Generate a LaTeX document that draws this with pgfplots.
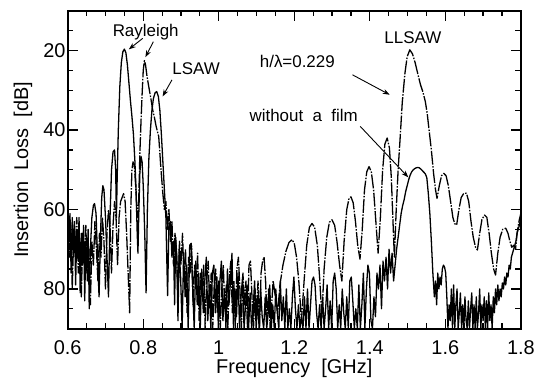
\documentclass[border=0pt]{standalone}
\usepackage{pgfplots}
\pgfplotsset{compat=1.18}
\usepackage{fontspec}
\setmainfont{Liberation Sans}
\usetikzlibrary{arrows.meta}

\begin{document}
\begin{tikzpicture}
\begin{axis}[
  scale only axis, width=455pt, height=319pt,
  at={(0,0)}, anchor=south west,
  xmin=0.6, xmax=1.8, ymin=10, ymax=90, y dir=reverse,
  xtick={0.6,0.8,1,1.2,1.4,1.6,1.8},
  xticklabels={0.6,0.8,1,1.2,1.4,1.6,1.8},
  ytick={20,40,60,80},
  minor xtick={0.65,0.7,0.75,0.85,0.9,0.95,1.05,1.1,1.15,1.25,1.3,1.35,1.45,1.5,1.55,1.65,1.7,1.75},
  minor ytick={15,25,30,35,45,50,55,65,70,75,85},
  tick align=inside, xtick pos=both, ytick pos=both,
  major tick length=10pt, minor tick length=5.5pt,
  major tick style={line width=1.2pt, black},
  minor tick style={line width=1.2pt, black},
  axis line style={line width=1.8pt},
  tick label style={font=\fontsize{20}{24}\selectfont},
  xticklabel style={anchor=base, yshift=-26pt},
  yticklabel style={inner xsep=2pt},
  xlabel={Frequency\ \ [GHz]}, ylabel={Insertion\ \ Loss\ \ [dB]},
  label style={font=\fontsize{20}{24}\selectfont},
  xlabel style={at={(axis description cs:0.5,0)}, anchor=base, yshift=-45pt},
  ylabel style={at={(axis description cs:-0.099,0.5)}, anchor=center},
  /pgf/number format/assume math mode=true,
  no markers,
]
% without a film (solid)
\addplot[black, line width=1.3pt, line join=round] table {
0.600 57
0.603 68
0.606 61
0.609 76
0.612 62
0.615 71
0.618 63
0.621 79
0.624 65
0.627 72
0.630 62
0.633 81
0.636 66
0.639 74
0.642 64
0.645 83
0.648 68
0.651 76
0.654 65
0.657 85
0.660 70
0.664 62
0.668 59
0.671 58.5
0.675 61
0.679 72
0.683 82
0.687 66
0.690 57
0.693 54
0.696 55
0.700 62
0.704 72
0.708 82
0.712 62
0.716 50
0.720 45.5
0.724 45
0.727 50
0.729 62
0.731 52
0.734 40
0.738 29
0.742 23
0.746 20.3
0.750 19.6
0.754 20.5
0.758 23.5
0.762 28
0.766 32.5
0.770 36.5
0.774 41
0.778 48
0.781 55
0.784 66
0.786 71
0.788 62
0.791 51
0.794 46.6
0.797 48
0.800 54
0.804 66
0.8075 81
0.811 60
0.815 47
0.819 40
0.823 35
0.827 32
0.8315 30.6
0.8356 30.3
0.840 31.5
0.844 35
0.848 41
0.852 48
0.856 55
0.860 62
0.8645 81.7
0.868 64
0.872 63
0.876 72
0.880 68
0.883 84
0.886 67
0.889 73
0.892 88
0.895 70
0.899 77
0.903 90
0.907 71
0.911 82
0.915 74
0.919 90
0.923 69
0.927 68.5
0.931 80
0.935 90
0.939 73
0.943 84
0.947 76
0.951 90
0.955 75
0.959 86
0.963 78
0.967 72
0.971 88
0.975 79
0.979 90
0.983 76
0.987 74
0.991 86
0.995 77
0.999 90
1.003 78
1.007 73
1.011 88
1.015 80
1.019 90
1.023 75
1.027 84
1.031 78
1.035 71
1.039 90
1.043 80
1.047 87
1.051 76
1.055 90
1.059 82
1.063 77
1.067 90
1.071 84
1.075 79
1.079 90
1.083 81
1.087 90
1.091 85
1.095 78
1.099 90
1.103 83
1.107 90
1.111 80
1.115 87
1.119 90
1.123 82
1.127 90
1.131 86
1.135 79
1.139 90
1.143 84
1.147 90
1.151 80
1.155 86
1.159 90
1.163 78
1.167 88
1.171 82
1.175 90
1.179 80
1.183 90
1.187 85
1.191 90
1.195 82
1.199 77
1.203 85
1.207 90
1.211 84
1.215 90
1.219 87
1.223 90
1.227 82
1.231 90
1.235 80
1.239 90
1.243 84
1.247 78
1.251 77
1.255 79
1.259 86
1.263 90
1.267 84
1.271 90
1.275 82
1.279 90
1.283 85
1.287 79
1.291 90
1.295 83
1.299 90
1.303 78
1.307 76
1.311 80
1.315 90
1.319 84
1.323 90
1.327 80
1.331 86
1.335 90
1.339 82
1.343 90
1.347 78
1.351 77
1.355 83
1.359 90
1.363 85
1.367 90
1.371 79
1.375 90
1.379 84
1.383 76
1.387 90
1.391 80
1.395 74
1.399 76
1.403 88
1.407 90
1.411 82
1.415 87
1.419 76
1.423 80
1.427 74
1.431 85
1.435 73
1.439 78
1.443 72
1.447 80
1.451 70
1.455 76
1.459 71
1.463 78
1.467 74
1.471 70
1.475 67
1.479 64
1.483 61
1.487 59
1.491 57.5
1.495 55.5
1.499 54
1.503 52.5
1.507 51.3
1.511 50.5
1.515 50
1.519 49.7
1.523 49.5
1.527 49.4
1.531 49.5
1.535 49.8
1.539 50.2
1.543 50.6
1.547 51
1.551 52
1.555 56
1.559 61
1.563 68
1.567 76
1.571 82
1.574 78
1.577 84
1.580 76
1.583 80
1.586 77
1.589 79
1.592 75
1.595 74
1.598 74.5
1.601 76
1.604 82
1.607 90
1.610 84
1.613 88
1.616 80
1.619 90
1.622 79
1.625 90
1.628 84
1.631 80
1.634 90
1.637 86
1.640 81
1.643 90
1.646 84
1.649 90
1.652 82
1.655 88
1.658 90
1.661 83
1.664 90
1.667 85
1.670 81
1.673 90
1.676 84
1.679 90
1.682 82
1.685 90
1.688 86
1.691 80
1.694 90
1.697 84
1.700 88
1.703 82
1.706 90
1.709 83
1.712 90
1.715 81
1.718 88
1.721 84
1.724 90
1.727 82
1.730 86
1.733 80
1.736 84
1.739 79
1.742 83
1.745 80
1.748 82
1.751 78.5
1.754 80
1.757 77
1.760 79
1.763 76
1.766 77
1.769 74
1.772 75
1.775 72
1.778 71
1.781 70
1.784 69
1.787 68
1.790 66
1.793 65
1.796 64
1.800 62
};
% with film h/lambda = 0.229 (dash-dot)
\addplot[black, line width=1.3pt, line join=round, dash pattern=on 14pt off 1.5pt on 1.5pt off 1.5pt] table {
0.600 60
0.604 72
0.608 64
0.612 80
0.616 66
0.620 70
0.624 62
0.628 76
0.632 68
0.636 82
0.640 66
0.644 72
0.648 64
0.652 78
0.656 70
0.660 84
0.664 68
0.668 74
0.672 63
0.676 70
0.680 78
0.684 66
0.688 72
0.692 62
0.696 68
0.700 80
0.704 66
0.708 60
0.712 64
0.716 76
0.720 64
0.724 58
0.728 62
0.732 74
0.736 62
0.740 58
0.744 57
0.748 56
0.752 58
0.756 66
0.760 76
0.764 86
0.767 60
0.770 50
0.773 48
0.776 48.5
0.780 54
0.784 62
0.788 58
0.791 46
0.794 38
0.797 31
0.800 25
0.803 22.5
0.806 23.5
0.810 26.5
0.816 29.8
0.821 32.5
0.825 34.9
0.830 37
0.834 39
0.841 41.6
0.847 50
0.852 56
0.856 60
0.860 58
0.864 65
0.868 60
0.872 68
0.876 63
0.880 74
0.884 66
0.888 70
0.892 82
0.896 68
0.900 74
0.904 66
0.908 78
0.912 70
0.916 86
0.920 72
0.924 76
0.928 69
0.932 84
0.936 74
0.940 79
0.944 71
0.948 88
0.952 76
0.956 82
0.960 74
0.964 90
0.968 78
0.972 73
0.976 84
0.980 76
0.984 90
0.988 79
0.992 75
0.996 86
1.000 78
1.004 90
1.008 80
1.012 74
1.016 85
1.020 79
1.024 90
1.028 77
1.032 73
1.036 86
1.040 78
1.044 90
1.048 75
1.052 72
1.056 80
1.060 90
1.064 76
1.068 84
1.072 78
1.076 90
1.080 74
1.084 73
1.088 82
1.092 90
1.096 80
1.100 86
1.104 78
1.108 90
1.112 76
1.116 73
1.120 72
1.124 78
1.128 88
1.132 80
1.136 90
1.140 84
1.144 78
1.150 82
1.156 86
1.162 79
1.170 74
1.178 70.5
1.186 68.3
1.194 67.6
1.200 68.5
1.206 72
1.212 78
1.219 88
1.226 78
1.233 69
1.240 64.5
1.247 63.5
1.254 64.5
1.261 69
1.267 77
1.273 87
1.279 75
1.286 67
1.293 63.2
1.300 62.6
1.307 64
1.313 68
1.320 74
1.326 78
1.332 68
1.339 60
1.345 57.2
1.350 56.8
1.356 58.3
1.362 63
1.368 69
1.374 72.5
1.380 65
1.386 55
1.392 50.5
1.398 49.2
1.404 50.5
1.410 55
1.416 63
1.422 71
1.428 62
1.434 50
1.440 43.5
1.446 42
1.452 44.5
1.457 52
1.461 62
1.465 72
1.470 60
1.475 50
1.480 42.5
1.486 33
1.493 25.7
1.499 21.5
1.506 19.8
1.513 20.8
1.520 23
1.527 25.8
1.534 28.5
1.541 30.5
1.547 32.8
1.552 35.8
1.557 40
1.563 45
1.569 51
1.574 55
1.578 57.2
1.584 54
1.590 51.5
1.596 50.9
1.602 51.5
1.608 54
1.614 58
1.620 62
1.625 63.6
1.630 63.9
1.636 60
1.642 57
1.649 55.9
1.656 55.9
1.662 58
1.668 63
1.674 67
1.680 69.5
1.685 70.2
1.691 66
1.697 62.5
1.704 61.4
1.710 62
1.716 66
1.722 71
1.728 75
1.733 76.5
1.739 71
1.745 67
1.752 65
1.760 64.7
1.766 66
1.771 68
1.776 69.5
1.781 69
1.786 70
1.790 66
1.795 63
1.800 61
};
% annotations
\node[anchor=base, font=\fontsize{17}{20}\selectfont] at (axis cs:0.8065,16.5) {Rayleigh};
\node[anchor=base, font=\fontsize{17}{20}\selectfont] at (axis cs:0.940,26.1) {LSAW};
\node[anchor=base, font=\fontsize{17}{20}\selectfont] at (axis cs:1.208,24.3) {h/λ=0.229};
\node[anchor=base, font=\fontsize{17}{20}\selectfont] at (axis cs:1.225,37.9) {without\ \ a\ \ film};
\node[anchor=base, font=\fontsize{17}{20}\selectfont] at (axis cs:1.514,18.1) {LLSAW};
\draw[-{Stealth[length=7pt,width=5pt]}, line width=0.9pt] (axis cs:0.7986,16.9) -- (axis cs:0.7617,19.67);
\draw[-{Stealth[length=7pt,width=5pt]}, line width=0.9pt] (axis cs:0.8268,17.74) -- (axis cs:0.8057,21.65);
\draw[-{Stealth[length=7pt,width=5pt]}, line width=0.9pt] (axis cs:0.8761,27.35) -- (axis cs:0.8513,31.53);
\draw[-{Stealth[length=7pt,width=5pt]}, line width=0.9pt] (axis cs:1.3543,26.09) -- (axis cs:1.4527,31.1);
\draw[-{Stealth[length=7pt,width=5pt]}, line width=0.9pt] (axis cs:1.3746,39.06) -- (axis cs:1.502,51.9);
\end{axis}
\path (-68pt,-49pt) rectangle (470pt,330pt);
\end{tikzpicture}
\end{document}
